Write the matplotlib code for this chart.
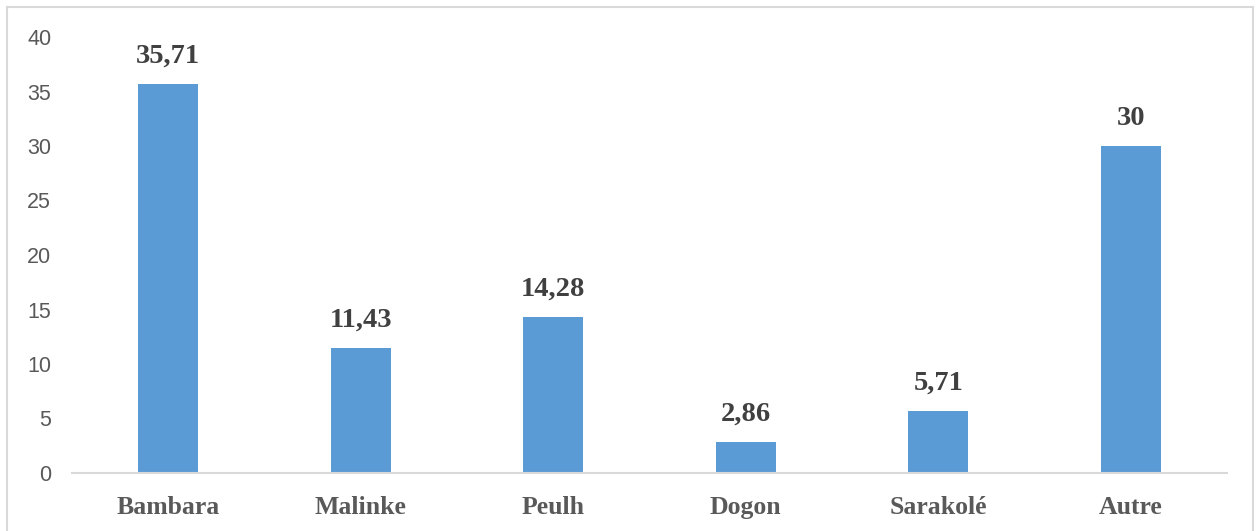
import matplotlib.pyplot as plt
from matplotlib.patches import Rectangle

# ethnic groups and their shares (%)
groups = ["Bambara", "Malinke", "Peulh", "Dogon", "Sarakolé", "Autre"]
shares = [35.71, 11.43, 14.28, 2.86, 5.71, 30]
yticks = [0, 5, 10, 15, 20, 25, 30, 35, 40]

W, H = 1256, 531
fig = plt.figure(figsize=(W / 100, H / 100), dpi=100)
ax = fig.add_axes([72 / W, (H - 473) / H, (1227 - 72) / W, (473 - 37) / H])

bars = ax.bar(range(len(groups)), shares, width=0.31, color="#5B9BD5")
ax.set_xlim(-0.5, len(groups) - 0.5)
ax.set_ylim(0, 40)
ax.set_yticks(yticks)
ax.set_yticklabels([str(t) for t in yticks], fontfamily="Liberation Sans",
                   fontsize=15.5, color="#595959")
ax.set_xticks(range(len(groups)))
ax.set_xticklabels(groups, fontfamily="Liberation Serif", fontweight="bold",
                   fontsize=18.5, color="#595959")
ax.tick_params(axis="both", length=0)
ax.tick_params(axis="x", pad=16.5)
ax.tick_params(axis="y", pad=15)

for s in ["top", "right", "left"]:
    ax.spines[s].set_visible(False)
ax.spines["bottom"].set_color("#D9D9D9")
ax.spines["bottom"].set_linewidth(1.5)

# value labels above each bar
for b, v in zip(bars, shares):
    txt = f"{v:g}".replace(".", ",")
    ax.annotate(txt, (b.get_x() + b.get_width() / 2, v), xytext=(0, 11),
                textcoords="offset points", ha="center", va="bottom",
                fontfamily="Liberation Serif", fontweight="bold",
                fontsize=20.5, color="#404040")

# light frame around the chart area
fig.patches.append(Rectangle((7 / W, -0.05), (1253 - 7) / W, (H - 7) / H + 0.05,
                             transform=fig.transFigure, fill=False,
                             edgecolor="#D9D9D9", linewidth=1.5))

fig.savefig("out.png", dpi=100)
